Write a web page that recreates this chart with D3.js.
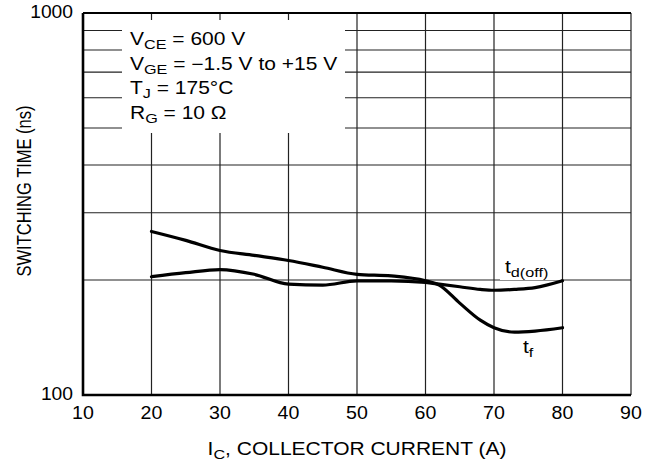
<!DOCTYPE html>
<html>
<head>
<meta charset="utf-8">
<script src="https://cdn.jsdelivr.net/npm/d3@7"></script>
<style>
  body { margin: 0; background: #fff; }
  text { font-family: "Liberation Sans", Arial, sans-serif; fill: #000; }
</style>
</head>
<body>
<svg id="chart" width="655" height="467"></svg>
<script>
// data
var currents = [20, 25, 30, 35, 40, 45, 50, 55, 60, 62, 65, 68, 70, 73, 76, 80];
var tdOff    = [204, 209, 213, 207, 195, 194, 199, 199, 197, 195, 192, 189, 188, 189, 191, 199];
var tF       = [268, 254, 239, 232, 225, 216, 207, 205, 199, 194, 174, 157, 150, 146, 147, 150];
var xTicks = [10, 20, 30, 40, 50, 60, 70, 80, 90];
var yGrid = [200, 300, 400, 500, 600, 700, 800, 900];
var conditions = [
  ["V", "CE", " = 600 V"],
  ["V", "GE", " = \u22121.5 V to +15 V"],
  ["T", "J", " = 175\u00B0C"],
  ["R", "G", " = 10 \u03A9"]
];

var svg = d3.select("#chart");
var pLeft = 83, pRight = 631, pTop = 13, pBottom = 395;
var sx = 1.2; // text in the reference is a bit wider than it is tall

var x = d3.scaleLinear().domain([10, 90]).range([pLeft, pRight]);
var y = d3.scaleLog().domain([100, 1000]).range([pBottom, pTop]);

function label(px, py, scale) {
  return svg.append("text")
    .attr("transform", `translate(${px},${py}) scale(${scale},1)`)
    .style("font-size", "17.5px");
}

var grid = svg.append("g").attr("stroke", "#222").attr("stroke-width", 1.2);

grid.selectAll(".vg")
  .data(xTicks.slice(1))
  .enter().append("line")
  .attr("x1", d => x(d)).attr("x2", d => x(d))
  .attr("y1", pTop).attr("y2", pBottom);

grid.selectAll(".hg")
  .data(yGrid)
  .enter().append("line")
  .attr("x1", pLeft).attr("x2", pRight)
  .attr("y1", d => y(d)).attr("y2", d => y(d));

// top border
svg.append("line")
  .attr("x1", pLeft).attr("x2", pRight)
  .attr("y1", pTop).attr("y2", pTop)
  .attr("stroke", "#000").attr("stroke-width", 1.8);

// white boxes behind the test conditions and the t_d(off) label
svg.append("rect")
  .attr("x", 122).attr("y", 20)
  .attr("width", 223).attr("height", 113)
  .attr("fill", "#fff");

svg.append("rect")
  .attr("x", 500).attr("y", 258)
  .attr("width", 61).attr("height", 22)
  .attr("fill", "#fff");

conditions.forEach(function (c, i) {
  var t = label(130, 45 + i * 24.5, sx);
  t.append("tspan").text(c[0]);
  t.append("tspan").attr("dy", 4).style("font-size", "13.5px").text(c[1]);
  t.append("tspan").attr("dy", -4).text(c[2]);
});

// left and bottom axes
svg.append("path")
  .attr("d", `M${pLeft},${pTop}V${pBottom}H${pRight}`)
  .attr("fill", "none")
  .attr("stroke", "#000")
  .attr("stroke-width", 2.6);

var line = d3.line()
  .x((d, i) => x(currents[i]))
  .y(d => y(d))
  .curve(d3.curveMonotoneX);

[tdOff, tF].forEach(function (series) {
  svg.append("path")
    .datum(series)
    .attr("d", line)
    .attr("fill", "none")
    .attr("stroke", "#000")
    .attr("stroke-width", 3.2)
    .attr("stroke-linecap", "round");
});

// tick labels
xTicks.forEach(function (d) {
  label(x(d), 419, 1.12).attr("text-anchor", "middle").text(d);
});

label(73, 18, 1.1).attr("text-anchor", "end").text("1000");
label(73, 400, 1.1).attr("text-anchor", "end").text("100");

// axis titles
var xt = label(357, 455, sx).attr("text-anchor", "middle");
xt.append("tspan").text("I");
xt.append("tspan").attr("dy", 4).style("font-size", "13.5px").text("C");
xt.append("tspan").attr("dy", -4).text(", COLLECTOR CURRENT (A)");

svg.append("text")
  .attr("transform", `translate(31,191) scale(1.25,1) rotate(-90)`)
  .attr("text-anchor", "middle")
  .style("font-size", "16.5px")
  .text("SWITCHING TIME (ns)");

// curve labels
var l1 = label(505, 273, sx);
l1.append("tspan").text("t");
l1.append("tspan").attr("dy", 4).style("font-size", "13.5px").text("d(off)");

var l2 = label(523, 353, sx);
l2.append("tspan").text("t");
l2.append("tspan").attr("dy", 4).style("font-size", "13.5px").text("f");
</script>
</body>
</html>
